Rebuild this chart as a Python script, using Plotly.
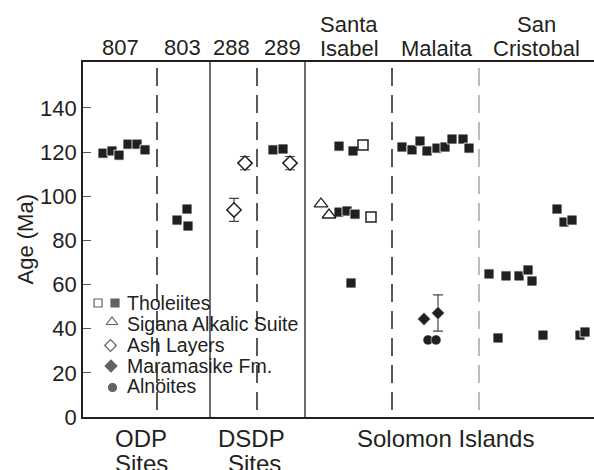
import plotly.graph_objects as go

# ---------------- data (x = position along the site strip, age in Ma) ----------------
# Tholeiites, filled squares
thol_fill_x = [20, 29, 36, 45, 54, 62,            # ODP 807
               94, 104, 105,                      # ODP 803
               190, 200,                          # DSDP 289
               256, 270, 256, 264, 272, 268,      # Santa Isabel
               319, 329, 337, 344, 354, 362, 369, 380, 386,   # Malaita
               406, 423, 436, 445, 449, 474, 481, 489, 415, 460, 497, 502]  # San Cristobal
thol_fill_age = [119.5, 120.5, 118.6, 123.6, 123.6, 121.0,
                 89.2, 94.2, 86.5,
                 121.0, 121.4,
                 122.7, 120.5, 92.8, 93.3, 91.9, 60.7,
                 122.3, 121.0, 125.0, 120.5, 121.8, 122.3, 125.9, 125.9, 121.8,
                 64.8, 63.9, 63.9, 66.6, 61.6, 94.2, 88.3, 89.2, 35.8, 37.1, 37.1, 38.5]
# Tholeiites, open squares (Santa Isabel)
thol_open_x = [280, 288]
thol_open_age = [123.2, 90.6]
# Sigana Alkalic Suite (open triangles)
sigana_x = [238, 246]
sigana_age = [96.5, 91.5]
# Ash layers (open diamonds, with error)
ash_x = [151, 162, 207]
ash_age = [93.8, 115.0, 115.0]
ash_err = [5.2, 3.0, 3.0]
# Maramasike Fm. (filled diamonds)
mara_x = [341, 355]
mara_age = [44.4, 47.1]
mara_err = [0, 8.2]
# Alnoites (filled circles)
aln_x = [345, 353]
aln_age = [34.9, 34.9]

y_ticks = [0, 20, 40, 60, 80, 100, 120, 140]
top_labels = ["807", "803", "288", "289"]
legend_labels = ["Tholeiites", "Sigana Alkalic Suite", "Ash Layers", "Maramasike Fm.", "Aln\u00f6ites"]

INK = "#231f20"
FONT = "Liberation Sans, Arial, Helvetica, sans-serif"
W_PLOT, H_PLOT = 511.0, 355.0   # plot area size in px


def px(xo):
    return xo / W_PLOT


def py(yo):
    return 1 - yo / H_PLOT


fig = go.Figure()

fig.add_trace(go.Scatter(x=thol_fill_x, y=thol_fill_age, mode="markers",
                         marker=dict(symbol="square", size=10, color=INK,
                                     line=dict(color="white", width=0.8))))
fig.add_trace(go.Scatter(x=thol_open_x, y=thol_open_age, mode="markers",
                         marker=dict(symbol="square", size=10, color="white",
                                     line=dict(color=INK, width=1.5))))
fig.add_trace(go.Scatter(x=sigana_x, y=sigana_age, mode="markers",
                         marker=dict(symbol="triangle-up", size=12, color="white",
                                     line=dict(color=INK, width=1.3))))
fig.add_trace(go.Scatter(x=ash_x, y=ash_age, mode="markers",
                         error_y=dict(type="data", array=ash_err, color="#444",
                                      thickness=1.2, width=5),
                         marker=dict(symbol="diamond", size=11, color="white",
                                     line=dict(color=INK, width=1.5))))
fig.add_trace(go.Scatter(x=mara_x, y=mara_age, mode="markers",
                         error_y=dict(type="data", array=mara_err, color="#444",
                                      thickness=1.2, width=5),
                         marker=dict(symbol="diamond", size=10, color=INK,
                                     line=dict(color="white", width=0.5))))
fig.add_trace(go.Scatter(x=aln_x, y=aln_age, mode="markers",
                         marker=dict(symbol="circle", size=10, color=INK,
                                     line=dict(color="white", width=0.5))))

# ---------------- legend drawn inside the plot (overlay axis in pixel offsets) ----------------
leg_sym_x = [15, 32, 29, 27.5, 28, 29.5]
leg_sym_y = [241, 241, 260, 283.5, 304, 325.5]
leg_sym = ["square", "square", "triangle-up", "diamond", "diamond", "circle"]
leg_size = [8, 8, 10, 9, 9, 8]
leg_fill = ["white", INK, "white", "white", INK, INK]
leg_line = [INK, INK, INK, INK, INK, INK]
fig.add_trace(go.Scatter(x=leg_sym_x, y=leg_sym_y, xaxis="x", yaxis="y2", mode="markers",
                         marker=dict(symbol=leg_sym, size=leg_size, color=leg_fill,
                                     line=dict(color=leg_line, width=1.2))))
leg_text_y = [241, 262, 283, 304, 324]
for lab_t, ty in zip(legend_labels, leg_text_y):
    fig.add_annotation(x=px(42), y=py(ty), xref="paper", yref="paper", text=lab_t,
                       showarrow=False, xanchor="left", yanchor="middle",
                       font=dict(family=FONT, size=19.5, color=INK))

# ---------------- dividers ----------------
for xv in [127, 222]:
    fig.add_shape(type="line", x0=xv, x1=xv, y0=0, y1=1, xref="x", yref="paper",
                  line=dict(color=INK, width=1.3))
for xv, col in [(74, INK), (174, INK), (309, INK), (396, "#a8a8a8")]:
    fig.add_shape(type="line", x0=xv, x1=xv, y0=0.02, y1=0.983, xref="x", yref="paper",
                  line=dict(color=col, width=1.5, dash="18px,9px"))


# ---------------- column labels ----------------
def lab(text, x, y, size=22):
    fig.add_annotation(x=px(x), y=py(y), xref="paper", yref="paper", text=text,
                       showarrow=False, xanchor="center", yanchor="middle",
                       font=dict(family=FONT, size=size, color=INK))


for t, xv in zip(top_labels, [37, 99, 148, 199]):
    lab(t, xv, -14.5)
lab("Santa", 266, -37)
lab("Isabel", 266, -14)
lab("Malaita", 354, -14)
lab("San", 453, -37)
lab("Cristobal", 453, -14)
lab("ODP", 58, 377, 24)
lab("Sites", 58, 401, 24)
lab("DSDP", 168, 377, 24)
lab("Sites", 171, 401, 24)
lab("Solomon Islands", 362, 376, 24)

fig.add_annotation(x=px(-58), y=py(177.5), xref="paper", yref="paper", text="Age (Ma)",
                   textangle=-90, showarrow=False, xanchor="center", yanchor="middle",
                   font=dict(family=FONT, size=22, color=INK))

fig.update_layout(
    width=594, height=470,
    margin=dict(l=83, r=0, t=62, b=53),
    paper_bgcolor="white", plot_bgcolor="white",
    showlegend=False,
    xaxis=dict(range=[0, 511], showgrid=False, zeroline=False, showticklabels=False,
               ticks="", showline=True, mirror=True, linecolor=INK, linewidth=1.6),
    yaxis=dict(range=[0, 160.8], showgrid=False, zeroline=False, tickvals=y_ticks,
               ticks="inside", ticklen=8, tickwidth=1, tickcolor="#555",
               showline=True, linecolor=INK, linewidth=1.6,
               tickfont=dict(family=FONT, size=22, color=INK)),
    yaxis2=dict(overlaying="y", range=[355, 0], visible=False),
)

fig.write_html("out.html")
